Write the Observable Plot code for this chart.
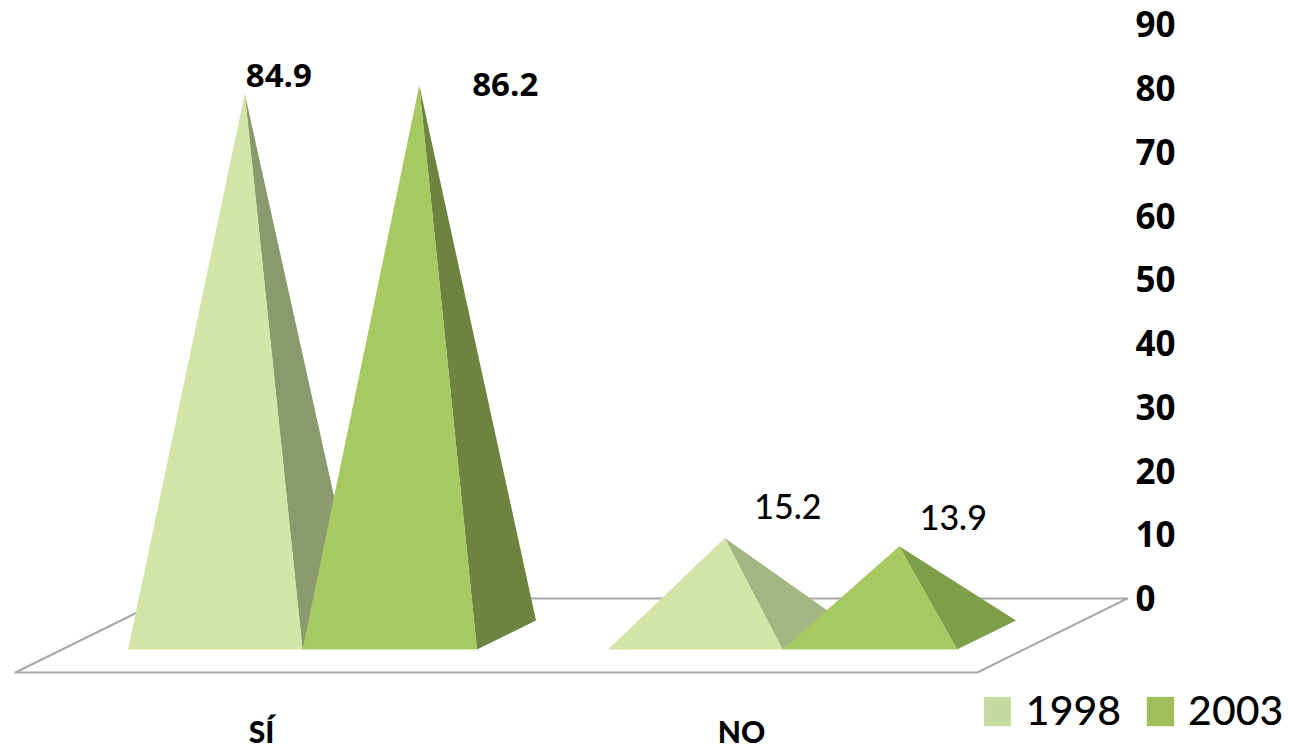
<!DOCTYPE html>
<html>
<head>
<meta charset="utf-8">
<style>html,body{margin:0;padding:0;background:#fff}svg{display:block}</style>
<script src="https://cdn.jsdelivr.net/npm/d3@7"></script>
<script src="https://cdn.jsdelivr.net/npm/@observablehq/plot@0.6"></script>
</head>
<body>
<div id="chart"></div>
<script>
// Data
const categories = ["SÍ", "NO"];
const years = ["1998", "2003"];
const values1998 = [84.9, 15.2];
const values2003 = [86.2, 13.9];
const yTicks = [0, 10, 20, 30, 40, 50, 60, 70, 80, 90];

// Colours
const frontColors = {"1998": "#d2e5a7", "2003": "#a6c962"};
const sideColors = {
  "1998": ["#8a9a6c", "#a3b583"],
  "2003": ["#6d833f", "#7f9e4a"]
};
const legendColors = {"1998": "#c6da9f", "2003": "#9fbf5c"};

// Chart layout, in scale units (x: category index, y: axis value)
const seriesWidth = 0.3635;
const depthX = 0.123;
const frontY = -8;
const backY = -3.45;
const baseCenterY = (frontY + backY) / 2;
const floor = {left: -0.598, right: 1.406, depthX: 0.3125, frontY: -11.6, backY: 0};
const categoryLabelY = -21.2;
const legendY = -17.8;
const legend = {
  "1998": {x1: 1.421, x2: 1.477, textX: 1.507},
  "2003": {x1: 1.76, x2: 1.817, textX: 1.845}
};
const legendHalf = 2.3;

// Label offsets from the apex, in pixels
const labelDx = {"1998": [34, 63], "2003": [86, 54]};
const labelDy = {"1998": [-17, -30], "2003": [0, -27]};

const seriesValues = {"1998": values1998, "2003": values2003};

const pyramids = categories.flatMap((category, i) =>
  years.map((year, s) => {
    const left = i - seriesWidth + s * seriesWidth;
    const right = left + seriesWidth;
    const value = seriesValues[year][i];
    const apex = {x: left + (seriesWidth + depthX) / 2, y: value + baseCenterY};
    return {
      category, year, value, i, apex,
      front: [{x: left, y: frontY}, {x: right, y: frontY}, apex],
      side: [{x: right, y: frontY}, {x: right + depthX, y: backY}, apex]
    };
  })
);

const floorPoints = [
  {x: floor.left, y: floor.frontY},
  {x: floor.right, y: floor.frontY},
  {x: floor.right + floor.depthX, y: floor.backY},
  {x: floor.left + floor.depthX, y: floor.backY}
];

const font = "Lato, Carlito, Calibri, sans-serif";
const boldFont = "'Open Sans', Lato, sans-serif";
const linear = {x: "x", y: "y", curve: "linear-closed"};

const plot = Plot.plot({
  width: 1289,
  height: 753,
  marginTop: 0,
  marginBottom: 0,
  marginLeft: 0,
  marginRight: 154,
  style: {background: "#fff", fontFamily: font},
  x: {type: "linear", domain: [0, 1], range: [302, 782], axis: null},
  y: {type: "linear", domain: [0, 90], range: [598, 24], axis: null},
  marks: [
    Plot.line(floorPoints, {...linear, stroke: "#a8a8a8", strokeWidth: 2, fill: "#fff"}),
    Plot.axisY(yTicks, {
      anchor: "right", tickSize: 0, tickPadding: 0, textAnchor: "start", dy: 1.5,
      fontSize: 35, fontWeight: 700, fontFamily: boldFont, fill: "#000", label: null
    }),
    ...pyramids.flatMap(p => [
      Plot.line(p.side, {...linear, fill: sideColors[p.year][p.i], stroke: null}),
      Plot.line(p.front, {...linear, fill: frontColors[p.year], stroke: null})
    ]),
    ...pyramids.map(p =>
      Plot.text([p], {
        x: d => d.apex.x, y: d => d.apex.y,
        text: d => d3.format(".1f")(d.value),
        dx: labelDx[p.year][p.i], dy: labelDy[p.year][p.i],
        fontSize: p.i === 0 ? 33 : 34,
        fontWeight: p.i === 0 ? 700 : 500,
        fontFamily: p.i === 0 ? boldFont : font,
        fill: "#000"
      })
    ),
    Plot.text(categories, {
      x: (d, i) => i, y: () => categoryLabelY, text: d => d, dx: -41,
      fontSize: 30, fontWeight: 900, fill: "#000"
    }),
    Plot.rect(years, {
      x1: d => legend[d].x1, x2: d => legend[d].x2,
      y1: () => legendY - legendHalf, y2: () => legendY + legendHalf,
      fill: d => legendColors[d]
    }),
    Plot.text(years, {
      x: d => legend[d].textX, y: () => legendY, text: d => d, textAnchor: "start",
      fontSize: 41, fontWeight: 500, fill: "#000"
    })
  ]
});
document.getElementById("chart").append(plot);
</script>
</body>
</html>
